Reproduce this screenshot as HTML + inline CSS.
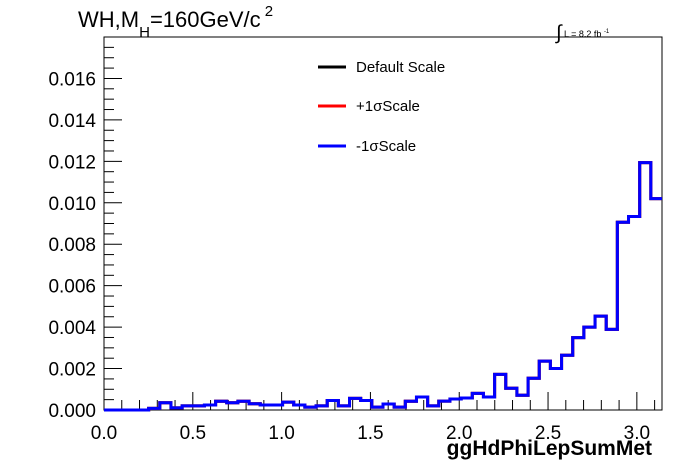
<!DOCTYPE html>
<html><head><meta charset="utf-8"><style>
body{margin:0;background:#fff;}
svg{display:block;font-family:"Liberation Sans",Arial,sans-serif;}
</style></head><body>
<svg id="c" width="696" height="472"></svg>
<script>
const binValues=[0,0,0,0,0.00008,0.00035,0.0001,0.0002,0.0002,0.00024,0.00042,0.00035,0.00042,0.0003,0.00024,0.00024,0.00038,0.00024,0.00014,0.0002,0.00046,0.0002,0.00056,0.00046,0.00014,0.00029,0.00014,0.00042,0.00063,0.0002,0.00043,0.00053,0.00058,0.0008,0.00063,0.00172,0.00105,0.00071,0.00153,0.00236,0.002,0.00264,0.00349,0.004,0.00453,0.00389,0.00906,0.00934,0.01194,0.0102];
const xTicks=["0.0","0.5","1.0","1.5","2.0","2.5","3.0"];
const yTicks=["0.000","0.002","0.004","0.006","0.008","0.010","0.012","0.014","0.016"];
const xMax=Math.PI, yMax=0.018;
const L=104,R=662,T=37,B=410;
const sx=v=>L+v/xMax*(R-L), sy=v=>B-v/yMax*(B-T);
const NS="http://www.w3.org/2000/svg";
const svg=document.getElementById('c');
function mk(t,a,p){const e=document.createElementNS(NS,t);for(const k in a)e.setAttribute(k,a[k]);(p||svg).appendChild(e);return e;}
const fr=mk('rect',{x:L,y:T,width:R-L,height:B-T,fill:'none',stroke:'#000','stroke-width':1});


for(let i=0;i*0.1<=xMax+1e-9;i++){const x=sx(i*0.1);const len=(i%5==0)?18:10;
 const t=mk('line',{x1:x,y1:B,x2:x,y2:B-len,stroke:'#000','stroke-width':1});
 
 }
xTicks.forEach(s=>{const t=mk('text',{x:sx(parseFloat(s)),y:B+29,'font-size':19,'text-anchor':'middle'});t.textContent=s;
 
 });
for(let i=0;i*0.0005<=yMax+1e-9;i++){const y=sy(i*0.0005);const len=(i%4==0)?18:10;
 const t=mk('line',{x1:L,y1:y,x2:L+len,y2:y,stroke:'#000','stroke-width':1});
 
 }
yTicks.forEach(s=>{const t=mk('text',{x:L-8,y:sy(parseFloat(s))+7,'font-size':19,'text-anchor':'end'});t.textContent=s;
 
 });
function path(){const w=xMax/binValues.length;let d='M'+sx(0)+','+sy(0);
 binValues.forEach((v,i)=>{d+=' L'+sx(i*w)+','+sy(v)+' L'+sx((i+1)*w)+','+sy(v);});return d;}
[['#000','default-scale-series'],['#f00','plus-1sigma-series'],['#00f','minus-1sigma-series']].forEach(([c,n])=>{
 const p=mk('path',{d:path(),fill:'none',stroke:c,'stroke-width':3});
 
 });
[['#000','Default Scale',67],['#f00','+1σScale',106],['#00f','-1σScale',146]].forEach(([c,s,y])=>{
 const g=mk('g',{});
 
 
 mk('line',{x1:318,y1:y,x2:346,y2:y,stroke:c,'stroke-width':3},g);
 const t=mk('text',{x:356,y:y+5,'font-size':15},g);t.textContent=s;});
</script>
<div style="position:absolute;left:0;top:0;width:696px;height:472px;pointer-events:none;font-family:'Liberation Sans',Arial,sans-serif;">
<div style="position:absolute;left:78px;top:7px;font-size:22px;white-space:nowrap;">WH,M<sub style="font-size:15px;position:relative;top:10px;vertical-align:baseline;">H</sub>=160GeV/c<sup style="font-size:15px;position:relative;top:-4px;vertical-align:top;"> 2</sup></div>
<div style="position:absolute;left:556px;top:20px;font-size:9px;white-space:nowrap;"><span style="font-size:20px;position:relative;top:2px;">∫</span> L = 8.2 fb <sup style="font-size:6px;">-1</sup></div>
<div style="position:absolute;right:44px;top:437px;font-size:21px;font-weight:bold;white-space:nowrap;">ggHdPhiLepSumMet</div>
</div>
</body></html>
